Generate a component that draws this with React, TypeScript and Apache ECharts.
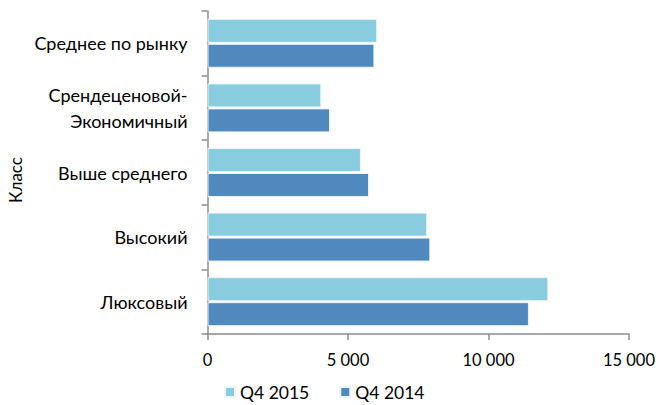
import React, { useEffect, useRef } from "react";
import * as echarts from "echarts";

const categories = [
  "Среднее по рынку",
  "Срендеценовой-\nЭкономичный",
  "Выше среднего",
  "Высокий",
  "Люксовый",
];
const seriesNames = ["Q4 2015", "Q4 2014"];
const values2015 = [6040, 4050, 5460, 7820, 12130];
const values2014 = [5940, 4360, 5750, 7930, 11440];
const xTicks = [0, 5000, 10000, 15000];
const yAxisTitle = "Класс";

const FONT = "Lato, 'Open Sans', sans-serif";

export default function App() {
  const ref = useRef<HTMLDivElement>(null);
  useEffect(() => {
    if (!ref.current) return;
    const chart = echarts.init(ref.current, null, { renderer: "svg" });
    chart.setOption({
      animation: false,
      textStyle: { fontFamily: FONT, color: "#000" },
      grid: { left: 207.5, right: 29, top: 11, bottom: 71, containLabel: false },
      legend: {
        top: 380,
        left: 222,
        icon: "rect",
        itemWidth: 10,
        itemHeight: 10,
        itemGap: 30,
        padding: 2,
        textStyle: { fontFamily: FONT, fontSize: 17.5, color: "#000", lineHeight: 20 },
        data: seriesNames,
      },
      graphic: [
        {
          type: "text",
          x: 15,
          y: 180,
          rotation: Math.PI / 2,
          style: {
            text: yAxisTitle,
            font: `17px ${FONT}`,
            fill: "#000",
            align: "center",
            verticalAlign: "middle",
          },
        },
      ],
      xAxis: {
        type: "value",
        min: xTicks[0],
        max: xTicks[xTicks.length - 1],
        interval: 5000,
        axisLine: { show: true, lineStyle: { color: "#8c8c8c", width: 1.5 } },
        axisTick: { show: true, length: 6, lineStyle: { color: "#8c8c8c", width: 1.5 } },
        splitLine: { show: false },
        axisLabel: {
          fontFamily: FONT,
          fontSize: 16.5,
          color: "#000",
          margin: 17,
          formatter: (v: number) => String(v).replace(/\B(?=(\d{3})+(?!\d))/g, " "),
        },
      },
      yAxis: {
        type: "category",
        data: categories,
        inverse: true,
        axisLine: { show: true, lineStyle: { color: "#8c8c8c", width: 1.5 } },
        axisTick: { show: true, length: 6, lineStyle: { color: "#8c8c8c", width: 1.5 } },
        axisLabel: {
          fontFamily: FONT,
          fontSize: 18,
          color: "#000",
          margin: 20,
          lineHeight: 26,
          align: "right",
        },
      },
      series: [
        {
          name: seriesNames[0],
          type: "bar",
          data: values2015,
          barWidth: 24,
          barGap: "4%",
          itemStyle: { color: "#89cbdf", borderColor: "#eef4fa", borderWidth: 1 },
        },
        {
          name: seriesNames[1],
          type: "bar",
          data: values2014,
          barWidth: 24,
          itemStyle: { color: "#4f89bd", borderColor: "#eef4fa", borderWidth: 1 },
        },
      ],
    });
    return () => chart.dispose();
  }, []);
  return <div ref={ref} style={{ width: 658, height: 405, position: "absolute", left: 0, top: 0 }} />;
}
